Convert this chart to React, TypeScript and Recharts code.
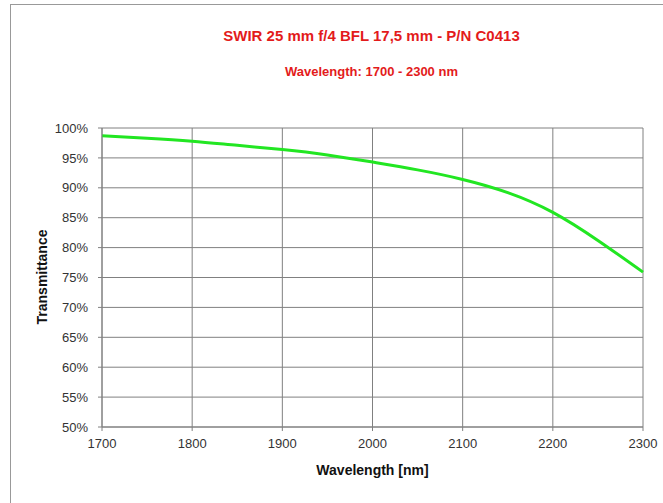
import React from 'react'
import { LineChart, Line, XAxis, YAxis, CartesianGrid } from 'recharts'

const wavelengths = [1700, 1750, 1800, 1850, 1900, 1950, 2000, 2050, 2100, 2150, 2200, 2250, 2300]
const transmittance = [98.7, 98.3, 97.8, 97.1, 96.4, 95.5, 94.3, 93.0, 91.4, 89.2, 85.9, 81.2, 75.9]
const xTicks = [1700, 1800, 1900, 2000, 2100, 2200, 2300]
const yTicks = [50, 55, 60, 65, 70, 75, 80, 85, 90, 95, 100]

const FONT = '"Liberation Sans", Arial, sans-serif'
const GRID = '#808080'

export default function App() {
  const data = wavelengths.map((w, i) => ({ w, t: transmittance[i] }))

  return (
    <div style={{ position: 'absolute', left: 0, top: 0, width: 663, height: 503, background: '#fff', fontFamily: FONT, overflow: 'hidden' }}>
      <div style={{ position: 'absolute', left: 10, top: 4, width: 670, height: 520, border: '1px solid #999' }} />
      <div style={{ position: 'absolute', left: 0, width: 743, top: 27, textAlign: 'center', color: '#e31b1b', fontWeight: 'bold', fontSize: 15 }}>
        SWIR 25 mm f/4 BFL 17,5 mm - P/N C0413
      </div>
      <div style={{ position: 'absolute', left: 0, width: 743, top: 64, textAlign: 'center', color: '#e31b1b', fontWeight: 'bold', fontSize: 13 }}>
        Wavelength: 1700 - 2300 nm
      </div>
      <div style={{ position: 'absolute', left: 0, top: 0 }}>
        <LineChart width={663} height={503} data={data} margin={{ top: 128, right: 20, bottom: 26, left: 42 }}>
          <CartesianGrid stroke={GRID} strokeWidth={1} horizontal vertical />
          <XAxis
            dataKey="w"
            type="number"
            domain={[1700, 2300]}
            ticks={xTicks}
            height={50}
            tickSize={4}
            tickMargin={8}
            stroke={GRID}
            tick={{ fill: '#333', fontSize: 13, fontFamily: FONT }}
            interval={0}
          />
          <YAxis
            type="number"
            domain={[50, 100]}
            ticks={yTicks}
            width={60}
            tickSize={4}
            tickMargin={10}
            stroke={GRID}
            tick={{ fill: '#333', fontSize: 13, fontFamily: FONT }}
            tickFormatter={(v: number) => `${v}%`}
            interval={0}
          />
          <Line
            dataKey="t"
            type="natural"
            stroke="#22e622"
            strokeWidth={3}
            dot={false}
            isAnimationActive={false}
          />
        </LineChart>
      </div>
      <div style={{ position: 'absolute', left: 0, width: 745, top: 462, textAlign: 'center', fontWeight: 'bold', fontSize: 14, color: '#111' }}>
        Wavelength [nm]
      </div>
      <div style={{ position: 'absolute', left: 42, top: 277, width: 0, height: 0 }}>
        <div style={{ position: 'absolute', transform: 'translate(-50%, -50%) rotate(-90deg)', whiteSpace: 'nowrap', fontWeight: 'bold', fontSize: 14, color: '#111' }}>
          Transmittance
        </div>
      </div>
    </div>
  )
}
